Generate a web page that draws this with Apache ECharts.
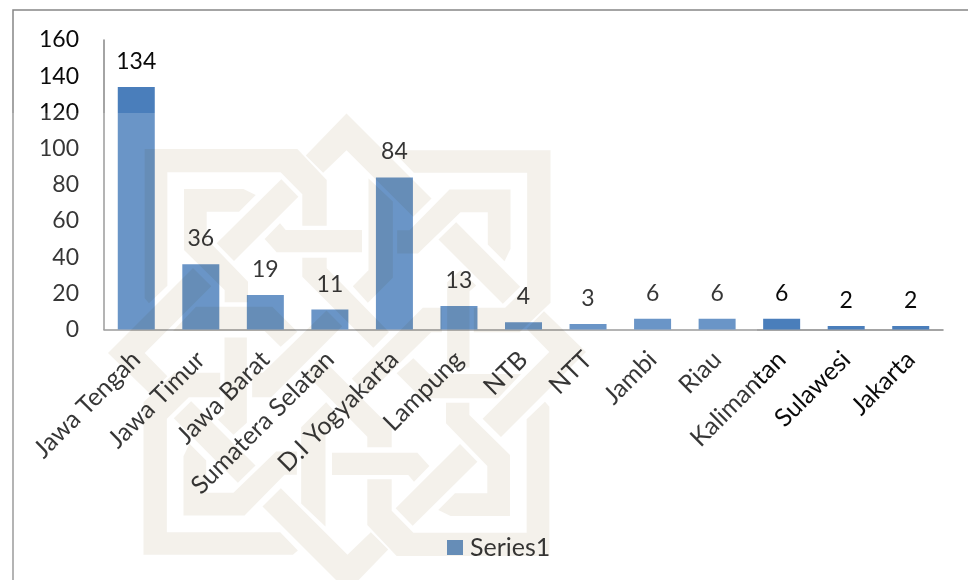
<!DOCTYPE html>
<html>
<head>
<meta charset="utf-8">
<style>html,body{margin:0;padding:0;background:#fff}#c{width:968px;height:580px}</style>
<script src="https://cdn.jsdelivr.net/npm/echarts@6/dist/echarts.min.js"></script>
</head>
<body>
<div id="c"></div>
<script>
const categories = ["Jawa Tengah","Jawa Timur","Jawa Barat","Sumatera Selatan","D.I Yogyakarta","Lampung","NTB","NTT","Jambi","Riau","Kalimantan","Sulawesi","Jakarta"];
const values = [134,36,19,11,84,13,4,3,6,6,6,2,2];
const seriesName = "Series1";
const yTicks = {min:0,max:160,interval:20};

const FONT = 'Lato, "Open Sans", sans-serif';
const TXT = '#0a0a0a';
const AXIS = '#868686';

// Decorative background watermark: one arm of a four-fold pattern, in crop coordinates.
const arms = [
  [[82,418],[155,418],[155,512],[220,578],[560,578],[560,238],[615,185],[628,200],[628,648],[170,648],[82,555]],
  [[318,188],[388,188],[388,225],[510,345],[510,528],[332,528],[295,510],[345,460],[442,460],[442,378],[318,250]],
  [[360,312],[412,365],[218,557],[167,505]],
  [[-24,338],[232,338],[268,378],[222,425],[205,405],[-24,405]],
  [[82,322],[155,322],[155,265],[-58,52],[-105,99],[82,290]],
  [[170,100],[220,55],[268,102],[543,102],[474,175],[245,175]],
  // the chevron, written as its right-hand rotation
  [[738,36],[483,291],[428,236],[628,36],[560,-34],[612,-86]]
];
const CX = 347, CY = 352.5;
function toPage(p){ return [340+p[0]/3, 340+p[1]/3]; }
function rot(p,k){
  let x=p[0]-CX,y=p[1]-CY;
  for(let i=0;i<k;i++){ const t=x; x=-y; y=t; }
  return [CX+x,CY+y];
}
const watermark = [];
for(let k=0;k<4;k++){
  arms.forEach(a=>{
    watermark.push({type:'polygon',silent:true,z:101,
      shape:{points:a.map(p=>rot(toPage(p),k))},
      style:{fill:'rgb(244,241,235)',blend:'multiply'}});
  });
}

const chart = echarts.init(document.getElementById('c'),null,{renderer:'canvas'});
chart.setOption({
  animation:false,
  backgroundColor:'#ffffff',
  grid:{left:104,right:25,top:40,bottom:250.5,containLabel:false},
  legend:{show:true,left:442,top:530,itemWidth:16,itemHeight:15,icon:'rect',
    textStyle:{fontFamily:FONT,fontSize:25,color:TXT,padding:[0,0,2,2]},data:[seriesName]},
  xAxis:{type:'category',data:categories,
    axisLine:{lineStyle:{color:AXIS,width:1.5}},axisTick:{show:false},
    axisLabel:{interval:0,rotate:45,margin:26,fontFamily:FONT,fontSize:25,color:TXT}},
  yAxis:{type:'value',min:yTicks.min,max:yTicks.max,interval:yTicks.interval,
    axisLine:{show:true,lineStyle:{color:AXIS,width:1.5}},axisTick:{show:false},splitLine:{show:false},
    axisLabel:{margin:25,fontFamily:FONT,fontSize:23,color:TXT,padding:[2,0,0,0]}},
  series:[{name:seriesName,type:'bar',data:values,barWidth:37,
    itemStyle:{color:'#4a7ebb'},
    label:{show:true,position:'top',distance:14,fontFamily:FONT,fontSize:23,color:TXT}}],
  graphic:{elements:[
    {type:'polyline',silent:true,z:1,shape:{points:[[13,580],[13,10],[968,10]]},
      style:{stroke:AXIS,lineWidth:1.5,fill:'none'}},
    {type:'rect',silent:true,z:100,shape:{x:0,y:113,width:757,height:467},
      style:{fill:'rgba(255,255,255,0.18)'}},
    ...watermark
  ]}
});
</script>
</body>
</html>
